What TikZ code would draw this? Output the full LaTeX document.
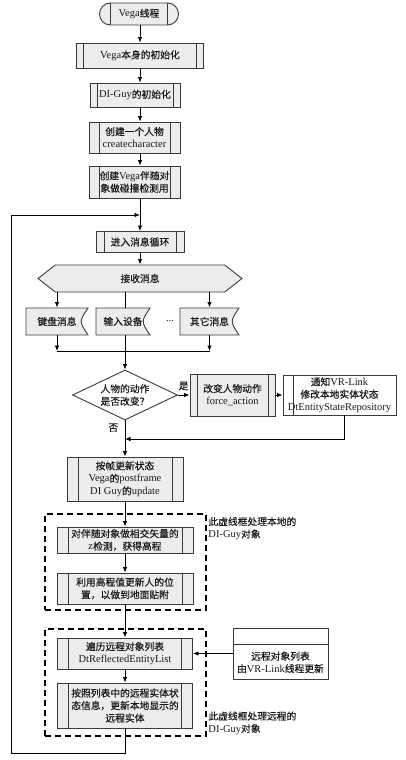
\documentclass[tikz,border=0pt]{standalone}
\usepackage{fontspec}
\setmainfont{Liberation Serif}
\newfontfamily\zh[Scale=0.93,FakeBold=0.4]{Noto Sans CJK SC}
\usetikzlibrary{arrows.meta,positioning,shapes.geometric,shapes.symbols}
\definecolor{linec}{HTML}{3A3A3A}
\definecolor{boxgray}{HTML}{ECECEC}
\tikzset{procbox/.style={draw=linec,fill=boxgray,inner sep=1pt,align=center,
        path picture={\draw[linec,line width=0.9pt]
            ([xshift=#1]path picture bounding box.north west) -- ([xshift=#1]path picture bounding box.south west)
            ([xshift=-#1]path picture bounding box.north east) -- ([xshift=-#1]path picture bounding box.south east);}},
    procbox/.default=8pt,
    leftbar/.style={draw=linec,fill=white,inner sep=1pt,align=center,
        path picture={\draw[linec,line width=0.9pt]
            ([xshift=#1]path picture bounding box.north west) -- ([xshift=#1]path picture bounding box.south west);}},
    msgshape/.style={draw=linec,fill=boxgray},
    hexa/.style={signal,signal to=west and east,signal pointer angle=76,draw=linec,fill=boxgray,inner sep=0},
    decision/.style={diamond,draw=linec,fill=white,aspect=2.1,inner sep=0,align=center},
    dashbox/.style={draw=black,line width=1.6pt,dash pattern=on 6pt off 4pt,inner sep=0},
    note/.style={align=left,inner sep=0,anchor=west}
}

\begin{document}
\begin{tikzpicture}[x=1pt,y=-1pt,line width=0.9pt,>={Latex[length=5.5pt,width=4.5pt]},
    every node/.style={font=\fontsize{10.5}{12.5}\selectfont,text=black!90}]
\useasboundingbox (0,0) rectangle (406,760);

\coordinate (stem) at (140,0);
\coordinate (lstem) at (125,0);

% start and initialisation
\node (start) [procbox=11pt,rounded corners=11pt,minimum width=79pt,minimum height=22pt] at (139,14) {Vega{\zh 线程}};
\node (init) [procbox=7pt,minimum width=127pt,minimum height=25pt] at (140,55.5) {Vega{\zh 本身的初始化}};
\node (dig) [procbox=7pt,minimum width=90pt,minimum height=24pt] at (135,95) {DI-Guy{\zh 的初始化}};
\node (create) [procbox=10pt,minimum width=91pt,minimum height=31pt] at (134.5,137.5) {{\zh 创建一个人物}\\createcharacter};
\node (comp) [procbox=10pt,minimum width=91pt,minimum height=32pt] at (134.5,182) {{\zh 创建}Vega{\zh 伴随对}\\{\zh 象做碰撞检测用}};
\node (msgloop) [procbox=8pt,minimum width=88pt,minimum height=21pt] at (140,242) {{\zh 进入消息循环}};

% message loop
\node (recv) [hexa,minimum width=204pt,minimum height=27pt] at (140,278.5) {{\zh 接收消息}};

\foreach \a/\b in {start/init,init/dig,dig/create,create/comp,comp/msgloop,msgloop/recv}
    \draw[->] (stem |- \a.south) -- (stem |- \b.north);

\foreach \nm/\cx/\bw/\lbl in {kbd/57/62/键盘消息,inp/123/54/输入设备,oth/209.5/59/其它消息}
{
    \draw[msgshape] ({\cx-\bw/2},308) -- ({\cx+\bw/2},308) .. controls ({\cx+\bw/2-9},321.5) .. ({\cx+\bw/2},335) -- ({\cx-\bw/2},335) -- cycle;
    \node (\nm) [inner sep=0,minimum width=\bw pt,minimum height=27pt] at (\cx,321.5) {{\zh \lbl}};
}
\node (dots) at (170,321) {...};

\coordinate (join) at (125,351);
\draw[->] (kbd |- recv.south) -- (kbd.north);
\draw[->] (oth |- recv.south) -- (oth.north);
\draw (lstem |- recv.south) -- (lstem |- inp.north);
\draw (lstem |- inp.south) -- (join);
\draw[->] (kbd.south) -- (kbd.south |- join);
\draw[->] (oth.south) -- (oth.south |- join);
\draw (kbd.south |- join) -- (oth.south |- join);

% decision
\node (decide) [decision,minimum width=105pt,minimum height=50pt] at (125,395) {{\zh 人物的动作}\\{\zh 是否改变？}};
\node (act) [procbox=7pt,minimum width=85pt,minimum height=42pt] at (232.5,395) {{\zh 改变人物动作}\\force\_action};
\node (notify) [leftbar=10pt,minimum width=113pt,minimum height=40pt] at (339.5,395) {{\zh 通知}VR-Link\\{\zh 修改本地实体状态}\\DtEntityStateRepository};

\draw[->] (join) -- (decide.north);
\draw[->] (decide) -- node (yes) [above=1pt] {{\zh 是}} (act);
\draw[->] (act) -- (notify);
\coordinate (fb) at (344,439);
\draw[->] (notify.south -| fb) -- (fb) -- (lstem |- fb);

\node (upd) [procbox=11pt,minimum width=116pt,minimum height=44pt] at (125,479) {{\zh 按帧更新状态}\\Vega{\zh 的}postframe\\DI Guy{\zh 的}update};
\draw[->] (decide) -- node (no) [left=3pt,pos=0.2] {{\zh 否}} (upd);

% local objects
\node (localbox) [dashbox,minimum width=161pt,minimum height=96pt] at (125.5,562) {};
\node (cross) [procbox=11pt,minimum width=136pt,minimum height=26pt] at (125,540) {{\zh 对伴随对象做相交矢量的}\\z{\zh 检测，获得高程}};
\node (pos) [procbox=11pt,minimum width=136pt,minimum height=31pt] at (125,588.5) {{\zh 利用高程值更新人的位}\\{\zh 置，以做到地面贴附}};
\node (localnote) [note] at (208,528.5) {{\zh 此虚线框处理本地的}\\DI-Guy{\zh 对象}};

% remote objects
\node (remotebox) [dashbox,minimum width=161pt,minimum height=107pt] at (125.5,682.5) {};
\node (list) [procbox=11pt,minimum width=135pt,minimum height=31pt] at (125,653.5) {{\zh 遍历远程对象列表}\\DtReflectedEntityList};
\node (show) [procbox=11pt,minimum width=135pt,minimum height=45pt] at (125,705.5) {{\zh 按照列表中的远程实体状}\\{\zh 态信息，更新本地显示的}\\{\zh 远程实体}};
\node (rhead) [draw=linec,fill=white,minimum width=95pt,minimum height=16pt] at (280.5,636) {};
\node (rlist) [draw=linec,fill=white,minimum width=95pt,minimum height=35pt,align=center,below=0pt of rhead] {{\zh 远程对象列表}\\{\zh 由}VR-Link{\zh 线程更新}};
\node (remotenote) [note] at (208,723) {{\zh 此虚线框处理远程的}\\DI-Guy{\zh 对象}};

\draw[->] (upd) -- (cross);
\draw[->] (cross) -- (pos);
\draw[->] (pos) -- (list);
\draw[->] (list) -- (show);
\draw[->] (rlist.west |- list) -- (list.east);

% back to the message loop
\coordinate (ret) at (11,753);
\coordinate (reentry) at (140,215);
\draw[->] (show) |- (ret) |- (reentry);

\end{tikzpicture}
\end{document}
